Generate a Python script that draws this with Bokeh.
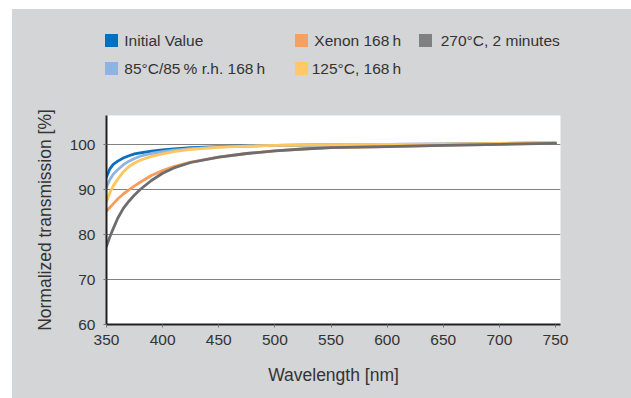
from bokeh.plotting import figure
from bokeh.models import Range1d, FixedTicker, Div
from bokeh.layouts import column
from bokeh.embed import file_html
from bokeh.resources import INLINE

# ---------------- data ----------------
wavelength = [350, 353, 356, 360, 365, 370, 375, 380, 390, 400, 410, 425,
              450, 475, 500, 525, 550, 600, 650, 700, 750]

initial_value = [92.8, 94.6, 95.6, 96.3, 97.0, 97.5, 97.9, 98.15, 98.5, 98.8, 99.0,
                 99.3, 99.55, 99.7, 99.8, 99.85, 99.9, 100.0, 100.1, 100.2, 100.35]
humid_85_85 = [90.6, 92.2, 93.4, 94.4, 95.5, 96.3, 96.9, 97.4, 98.0, 98.4, 98.75,
               99.1, 99.45, 99.65, 99.8, 99.85, 99.9, 100.0, 100.1, 100.2, 100.35]
heat_125 = [87.3, 89.3, 90.8, 92.3, 93.9, 95.1, 95.9, 96.5, 97.35, 97.9, 98.4,
            98.9, 99.35, 99.65, 99.8, 99.88, 99.95, 100.0, 100.1, 100.25, 100.45]
xenon_168 = [85.2, 86.0, 86.8, 87.9, 89.0, 89.9, 90.8, 91.6, 93.1, 94.2, 95.1,
             96.1, 97.2, 98.0, 98.6, 99.0, 99.3, 99.55, 99.8, 100.05, 100.3]
reflow_270 = [77.4, 79.5, 81.3, 83.6, 85.8, 87.4, 88.8, 90.0, 92.0, 93.6, 94.8,
              96.0, 97.2, 98.0, 98.6, 99.0, 99.3, 99.55, 99.8, 100.05, 100.25]

series_names = ["Initial Value", "85\u00b0C/85\u2009% r.h. 168\u2009h", "125\u00b0C, 168\u2009h",
                "Xenon 168\u2009h", "270\u00b0C, 2 minutes"]
series_values = [initial_value, humid_85_85, heat_125, xenon_168, reflow_270]
line_colors = ["#0a6ebd", "#8eb4e3", "#fdc65e", "#f79c5a", "#6d6d70"]
legend_colors = ["#0070c0", "#8eb4e3", "#fec966", "#f8a062", "#808083"]
legend_order = [0, 3, 4, 1, 2]   # row 1: Initial, Xenon, 270 ; row 2: 85/85, 125

x_ticks = [350, 400, 450, 500, 550, 600, 650, 700, 750]
y_ticks = [60, 70, 80, 90, 100]

# ---------------- style ----------------
BG = "#d4d5d7"
FONT = "Liberation Sans"
TXT = "#333333"
FS = "15.5px"
FS_AX = "17.5px"
W = 619
LEG_H, PLOT_H = 90, 299

# ---------------- legend (HTML block above the plot) ----------------
sq_left = [93, 283, 407, 93, 283]
sq_top = [24.5, 24.5, 24.5, 52.5, 52.5]
tx_left = [112.3, 302.3, 428.7, 112.3, 299.7]
tx_top = [21.5, 21.5, 21.5, 49.5, 49.5]

parts = []
for k, i in enumerate(legend_order):
    parts.append(
        f'<span style="position:absolute;left:{sq_left[k]}px;top:{sq_top[k]}px;'
        f'width:13px;height:13px;background:{legend_colors[i]};"></span>')
    parts.append(
        f'<span style="position:absolute;left:{tx_left[k]}px;top:{tx_top[k]}px;'
        f'line-height:20px;white-space:nowrap;">{series_names[i]}</span>')
legend_html = (
    f'<div style="position:relative;width:{W}px;height:{LEG_H + 2}px;background:{BG};'
    f'font-family:\'{FONT}\';font-size:{FS};color:{TXT};margin:0;padding:0;">'
    + "".join(parts) + "</div>")
leg = Div(text=legend_html, width=W, height=LEG_H, margin=0,
          styles={"background-color": BG, "overflow": "visible"})

# ---------------- main plot ----------------
p = figure(width=W, height=PLOT_H, toolbar_location=None, output_backend="svg",
           x_range=Range1d(350, 350 + 454 / 1.1225),
           y_range=Range1d(60, 60 + 209 / 4.5),
           min_border_left=94, min_border_right=71, min_border_top=16,
           min_border_bottom=74, margin=0)
p.background_fill_color = "white"
p.border_fill_color = BG
p.outline_line_color = None

for name, vals, col in zip(series_names, series_values, line_colors):
    p.line(wavelength, vals, line_color=col, line_width=2.8, line_join="round",
           line_cap="round")

p.xaxis.ticker = FixedTicker(ticks=x_ticks)
p.yaxis.ticker = FixedTicker(ticks=y_ticks)
p.xgrid.visible = False
p.ygrid.ticker = FixedTicker(ticks=y_ticks[1:])
p.ygrid.grid_line_color = "#808080"
p.ygrid.grid_line_width = 1

for ax in (p.xaxis, p.yaxis):
    ax.axis_line_color = "#231f20"
    ax.axis_line_width = 2
    ax.major_tick_line_color = "#777777"
    ax.major_tick_in = 0
    ax.major_tick_out = 3
    ax.minor_tick_line_color = None
    ax.major_label_text_font = FONT
    ax.major_label_text_font_size = FS
    ax.major_label_text_color = TXT
    ax.axis_label_text_font = FONT
    ax.axis_label_text_font_size = FS_AX
    ax.axis_label_text_color = TXT
    ax.axis_label_text_font_style = "normal"

p.xaxis.axis_label = "Wavelength [nm]"
p.yaxis.axis_label = "Normalized transmission [%]"
p.xaxis.major_label_standoff = 7
p.xaxis.axis_label_standoff = 17
p.yaxis.major_label_standoff = 8
p.yaxis.axis_label_standoff = 12

layout = column(leg, p, spacing=0, margin=(9, 0, 0, 12),
                styles={"background-color": BG})

open("out.html", "w").write(file_html(layout, INLINE))
